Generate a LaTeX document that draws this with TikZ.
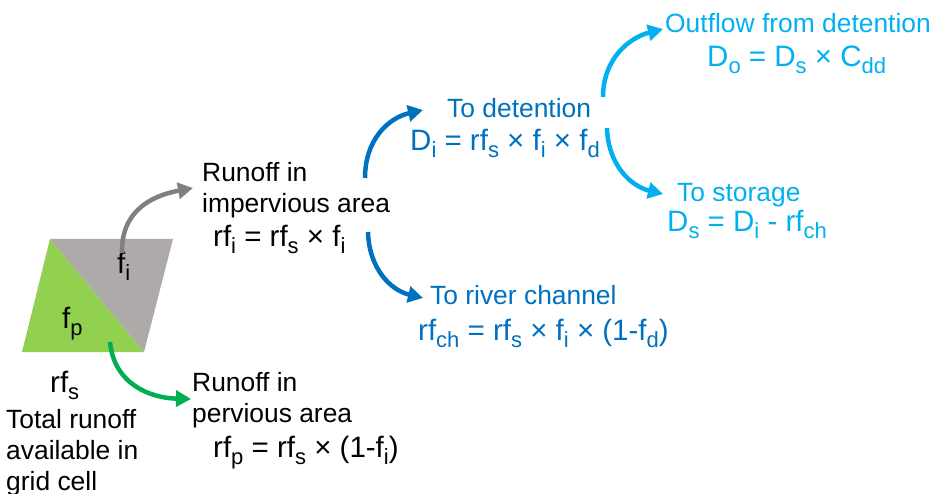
\documentclass[tikz,border=0pt]{standalone}
\usepackage{fontspec}
\setmainfont{Liberation Sans}
\usetikzlibrary{arrows.meta}
\definecolor{dblue}{HTML}{0070C0}
\definecolor{lblue}{HTML}{00B0F0}
\definecolor{cgreen}{HTML}{00B050}
\definecolor{lgreen}{HTML}{92D050}
\definecolor{cgray}{HTML}{AEAAAA}
\definecolor{agray}{HTML}{808080}
\newcommand\subs[1]{\raisebox{-7pt}{\fontsize{22}{22}\selectfont #1}}
\tikzset{
  lbl/.style={inner sep=0pt, anchor=base west, align=left, font=\fontsize{26.4}{31}\selectfont},
  eq/.style={inner sep=0pt, anchor=base west, font=\fontsize{29.5}{31}\selectfont},
  flow/.style={line width=4.5pt, -{Triangle[length=15pt,width=16pt]}},
}
\begin{document}
\begin{tikzpicture}[x=1pt,y=-1pt]
\useasboundingbox (0,0) rectangle (934,494);
% grid cell
\fill[lgreen] (50,239) -- (144,352) -- (22,352) -- cycle;
\fill[cgray] (50,239) -- (173,239) -- (144,352) -- cycle;
\node[eq] (fi) at (117,273) {f\subs{i}};
\node[eq] (fp) at (62,328) {f\subs{p}};
\node[eq] (rfs) at (50,392) {rf\subs{s}};
\node[lbl] (total) at (6,490) {Total runoff\\available in\\grid cell};
% impervious
\node[lbl] (imp) at (202,213) {Runoff in\\impervious area};
\node[eq] (rfi) at (213,247) {rf\subs{i} = rf\subs{s} × f\subs{i}};
% pervious
\node[lbl] (perv) at (192,422) {Runoff in\\pervious area};
\node[eq] (rfp) at (213,457) {rf\subs{p} = rf\subs{s} × (1-f\subs{i})};
% detention
\node[lbl, text=dblue] (det) at (447,118) {To detention};
\node[eq, text=dblue] (di) at (410,151) {D\subs{i} = rf\subs{s} × f\subs{i} × f\subs{d}};
\node[lbl, text=dblue] (riv) at (430,305) {To river channel};
\node[eq, text=dblue] (rfch) at (418,340) {rf\subs{ch} = rf\subs{s} × f\subs{i} × (1-f\subs{d})};
\node[lbl, text=lblue] (out) at (665,33) {Outflow from detention};
\node[eq, text=lblue] (do) at (707,67) {D\subs{o} = D\subs{s} × C\subs{dd}};
\node[lbl, text=lblue] (sto) at (677,202) {To storage};
\node[eq, text=lblue] (ds) at (667,232) {D\subs{s} = D\subs{i} - rf\subs{ch}};
% arrow coordinates
\coordinate (g0) at (122,253); \coordinate (g1) at (193,188);
\coordinate (n0) at (110,342); \coordinate (n1) at (191,399);
\coordinate (b0) at (365,178); \coordinate (b1) at (423,110);
\coordinate (c0) at (368,232); \coordinate (c1) at (423,298);
\coordinate (l0) at (603,97);  \coordinate (l1) at (663,29);
\coordinate (m0) at (607,128); \coordinate (m1) at (663,194);
\draw[flow, agray] (g0) .. controls (121,212) and (150,196) .. (g1);
\draw[flow, cgreen] (n0) .. controls (114,384) and (150,398) .. (n1);
\draw[flow, dblue] (b0) .. controls (365,140) and (388,118) .. (b1);
\draw[flow, dblue] (c0) .. controls (369,268) and (390,290) .. (c1);
\draw[flow, lblue] (l0) .. controls (603,60) and (628,38) .. (l1);
\draw[flow, lblue] (m0) .. controls (608,164) and (630,186) .. (m1);
\end{tikzpicture}
\end{document}
